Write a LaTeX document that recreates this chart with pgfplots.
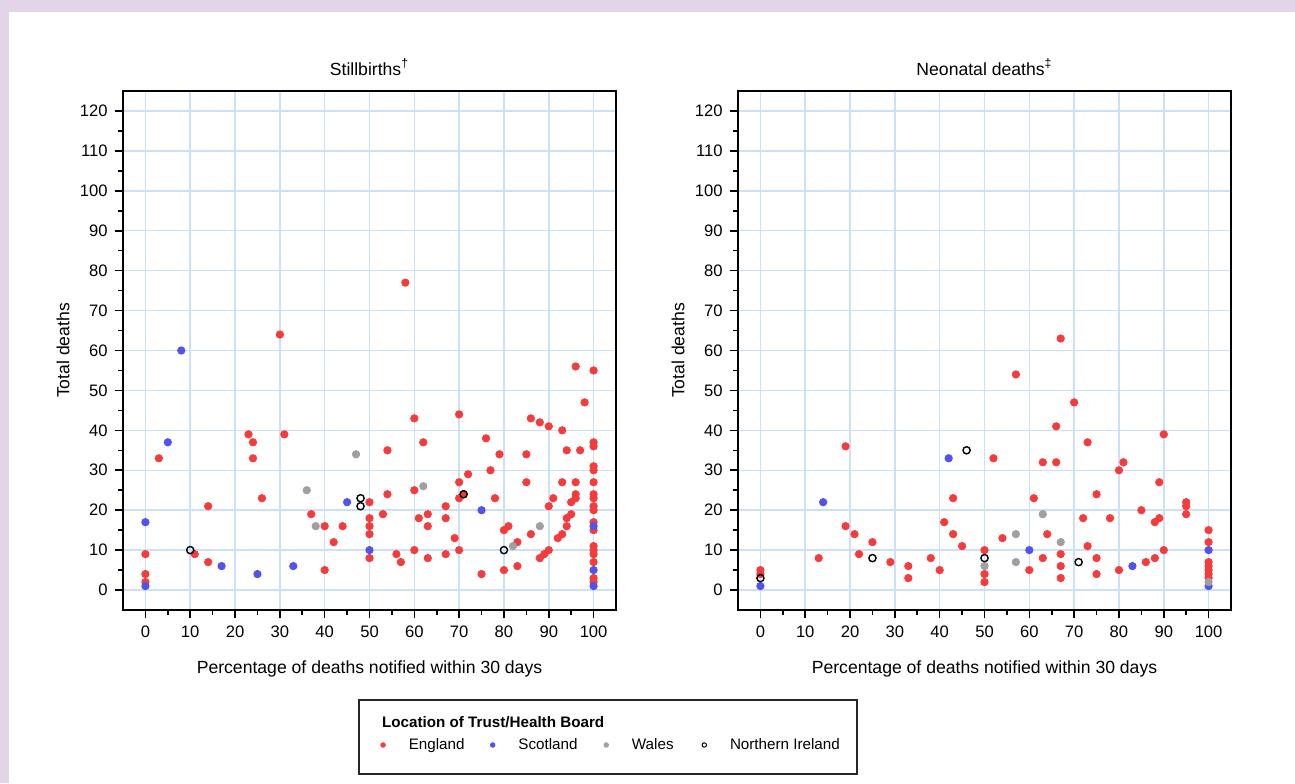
\documentclass[border=0pt]{standalone}
\usepackage{fontspec}
\setmainfont{Liberation Sans}
\usepackage{pgfplots}
\pgfplotsset{compat=1.18}
\definecolor{bgpurple}{RGB}{227,213,232}
\definecolor{engred}{RGB}{245,60,60}
\definecolor{scoblue}{RGB}{82,82,240}
\definecolor{walgrey}{RGB}{160,160,160}
\definecolor{gridblue}{RGB}{204,224,250}
\pgfplotsset{
  myaxis/.style={
    scale only axis,
    width=246.5pt, height=259.5pt,
    xmin=-5, xmax=105, ymin=-5, ymax=125,
    xtick={0,10,...,100}, ytick={0,10,...,120},
    minor x tick num=1, minor y tick num=1,
    tick pos=left, tick align=outside,
    major tick length=4.2pt, minor tick length=2.3pt,
    every tick/.style={black, line width=0.8pt},
    xmajorgrids, ymajorgrids,
    major grid style={gridblue, line width=0.75pt},
    axis line style={black, line width=0.9pt},
    tick label style={font=\fontsize{8.3}{10}\selectfont},
    /pgf/number format/assume math mode=true,
    label style={font=\fontsize{8.8}{10}\selectfont},
    every axis title shift=0pt,
    title style={font=\fontsize{8.8}{10}\selectfont, at={(axis description cs:0.5,1.0308)}, anchor=base},
    xlabel={Percentage of deaths notified within 30 days},
    ylabel={Total deaths},
    xlabel style={at={(axis description cs:0.5,-0.1137)}, anchor=center},
    ylabel style={at={(axis description cs:-0.1217,0.5)}, anchor=center},
  },
  eng/.style={only marks, mark=*, mark size=1.85pt, color=engred, mark options={draw=engred, fill=engred}},
  sco/.style={only marks, mark=*, mark size=1.85pt, color=scoblue, mark options={draw=scoblue, fill=scoblue}},
  wal/.style={only marks, mark=*, mark size=1.85pt, color=walgrey, mark options={draw=walgrey, fill=walgrey}},
  nir/.style={only marks, mark=o, mark size=1.8pt, color=black, mark options={draw=black, line width=0.7pt, fill=none}},
}
\begin{document}
\begin{tikzpicture}
\fill[bgpurple] (0,0) rectangle (647.5pt,391.5pt);
\fill[white] (4.5pt,0) rectangle (647.5pt,385.5pt);
% ---------------- Stillbirths ----------------
\begin{axis}[myaxis, at={(61.5pt,86.5pt)}, anchor=south west,
  title={Stillbirths\textsuperscript{†}},
  legend columns=4,
  legend style={draw=none, fill=none, inner sep=0pt,
    at={(axis description cs:0.5213,-0.2601)}, anchor=west,
    font=\fontsize{7.6}{9}\selectfont, cells={anchor=west},
    /tikz/every odd column/.append style={column sep=9.5pt},
    /tikz/column 2/.append style={column sep=10.7pt},
    /tikz/column 4/.append style={column sep=11pt},
    /tikz/column 6/.append style={column sep=12pt}},
]
\addlegendimage{legend image code/.code={\fill[engred] (0pt,0pt) circle (1.15pt);}}
\addlegendimage{legend image code/.code={\fill[scoblue] (0pt,0pt) circle (1.15pt);}}
\addlegendimage{legend image code/.code={\fill[walgrey] (0pt,0pt) circle (1.15pt);}}
\addlegendimage{legend image code/.code={\draw[black, line width=0.5pt] (0pt,0pt) circle (1.1pt);}}
\legend{England, Scotland, Wales, Northern Ireland}
\addplot[eng] coordinates {
(0,9) (0,4) (0,2) (3,33) (11,9) (14,21) (14,7) (23,39) (24,37) (24,33)
(26,23) (30,64) (31,39) (37,19) (40,16) (40,5) (42,12) (44,16) (50,22) (50,18)
(50,16) (50,14) (50,8) (53,19) (54,35) (54,24) (56,9) (57,7) (58,77) (60,43)
(60,25) (60,10) (61,18) (62,37) (63,19) (63,16) (63,8) (67,21) (67,18) (67,9)
(69,13) (70,44) (70,27) (70,23) (70,10) (71,24) (72,29) (75,4) (76,38) (77,30)
(78,23) (79,34) (80,15) (80,5) (81,16) (83,12) (83,6) (85,34) (85,27) (86,43)
(86,14) (88,42) (88,8) (89,9) (90,41) (90,21) (90,10) (91,23) (92,13) (93,40)
(93,27) (93,14) (94,35) (94,18) (94,16) (95,22) (95,19) (96,56) (96,27) (96,24)
(96,23) (97,35) (98,47) (100,55) (100,37) (100,36) (100,31) (100,30) (100,27) (100,24)
(100,23) (100,21) (100,20) (100,17) (100,15) (100,11) (100,10) (100,9) (100,7) (100,3)
(100,2)
};
\addplot[sco] coordinates {
(0,17) (0,1) (5,37) (8,60) (17,6) (25,4) (33,6) (45,22) (50,10) (75,20)
(100,16) (100,5) (100,1)
};
\addplot[wal] coordinates {
(36,25) (38,16) (47,34) (62,26) (82,11) (88,16)
};
\addplot[nir] coordinates {
(10,10) (48,23) (48,21) (71,24) (80,10)
};
\end{axis}
% ---------------- Neonatal deaths ----------------
\begin{axis}[myaxis, at={(369pt,86.5pt)}, anchor=south west,
  title={Neonatal deaths\textsuperscript{‡}}]
\addplot[eng] coordinates {
(0,5) (0,4) (13,8) (19,36) (19,16) (21,14) (22,9) (25,12) (29,7) (33,6)
(33,3) (38,8) (40,5) (41,17) (43,23) (43,14) (45,11) (50,10) (50,4) (50,2)
(52,33) (54,13) (57,54) (60,5) (61,23) (63,32) (63,8) (64,14) (66,41) (66,32)
(67,63) (67,9) (67,6) (67,3) (70,47) (72,18) (73,37) (73,11) (75,24) (75,8)
(75,4) (78,18) (80,30) (80,5) (81,32) (85,20) (86,7) (88,17) (88,8) (89,27)
(89,18) (90,39) (90,10) (95,22) (95,21) (95,19) (100,15) (100,12) (100,7) (100,6)
(100,5) (100,4) (100,3)
};
\addplot[sco] coordinates {
(0,1) (14,22) (42,33) (60,10) (83,6) (100,10) (100,1)
};
\addplot[wal] coordinates {
(50,6) (57,14) (57,7) (63,19) (67,12) (100,2)
};
\addplot[nir] coordinates {
(0,3) (25,8) (46,35) (50,8) (71,7)
};
\end{axis}
% legend frame and title
\draw[black!85, line width=0.75pt] (179.5pt,4.5pt) rectangle (428.5pt,41.5pt);
\node[anchor=base west, inner sep=0pt, font=\fontsize{7.6}{9}\selectfont\bfseries] at (190.85pt,28pt) {Location of Trust/Health Board};
\pgfresetboundingbox
\path[use as bounding box] (0,0) rectangle (647.5pt,391.5pt);
\end{tikzpicture}
\end{document}
